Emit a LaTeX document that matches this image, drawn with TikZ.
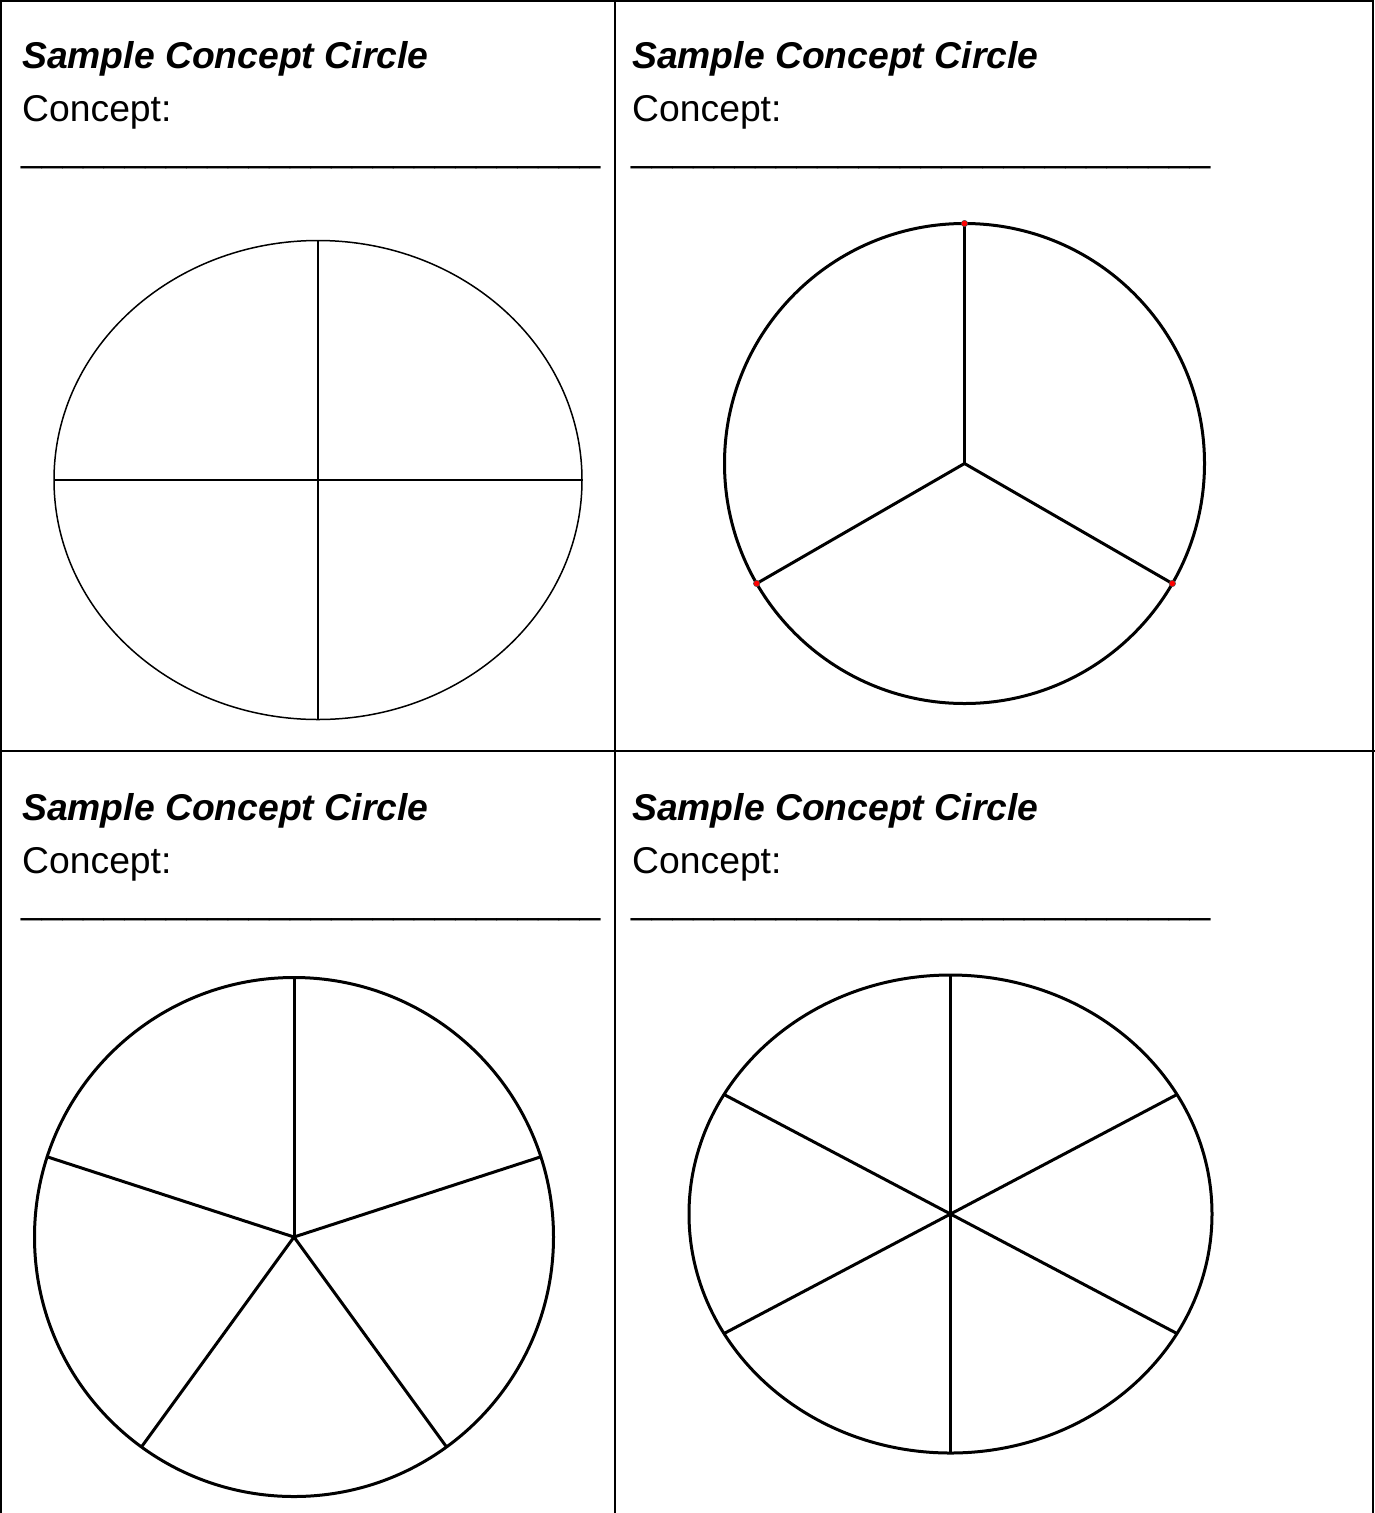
\documentclass[tikz,border=0pt]{standalone}
\usepackage{fontspec}
\setmainfont{Liberation Sans}
\usetikzlibrary{positioning}

\begin{document}
\begin{tikzpicture}[
    x=1pt, y=-1pt,
    cardtitle/.style={anchor=base west, inner sep=0pt,
      font=\fontsize{37.3}{44}\selectfont\bfseries\itshape},
    cardtext/.style={anchor=base west, inner sep=0pt,
      font=\fontsize{37.3}{44}\selectfont},
    tableline/.style={line width=2pt},
    thinrim/.style={line width=1.5pt},
    rim/.style={line width=3pt},
    dot/.style={fill=red, draw=black!70, line width=0.5pt}
]
  \useasboundingbox (0,0) rectangle (1375,1513);

  % table
  \draw[tableline] (1,1513) -- (1,1) -- (1373,1) -- (1373,1513);
  \draw[tableline] (615,0) -- (615,1513);
  \draw[tableline] (0,751) -- (1375,751);

  % headings of the four cards
  \foreach \x/\y/\n in {22/0/tl, 632/0/tr, 22/752/bl, 632/752/br} {
    \node[cardtitle] (title-\n) at (\x,68+\y) {Sample Concept Circle};
    \node[cardtext] (concept-\n) at (\x,121+\y) {Concept:};
    \node[cardtext, font=\fontsize{37.2}{44}\selectfont] (blank-\n) at (\x-1,161+\y)
      {\_\_\_\_\_\_\_\_\_\_\_\_\_\_\_\_\_\_\_\_\_\_\_\_\_\_\_\_};
  }

  % four parts
  \coordinate (c-tl) at (318,480);
  \draw[thinrim] (c-tl) ellipse [x radius=264, y radius=239.5];
  \draw[thinrim] (c-tl) ++(-264,0) -- ++(528,0);
  \draw[thinrim] (c-tl) ++(0,-239.5) -- ++(0,479);

  % three parts
  \coordinate (c-tr) at (964.5,463.5);
  \draw[rim] (c-tr) circle [radius=240];
  \foreach \a in {-90,30,150}
    \draw[rim] (c-tr) -- ++(\a:240) coordinate (end-\a);
  \foreach \a in {-90,30,150}
    \fill[dot] (end-\a) circle [radius=3.2];

  % five parts
  \coordinate (c-bl) at (294,1237);
  \draw[rim] (c-bl) circle [radius=259.5];
  \foreach \a in {-90,-18,54,126,198}
    \draw[rim] (c-bl) -- ++(\a:259.5);

  % six parts
  \coordinate (c-br) at (950.5,1214);
  \draw[rim] (c-br) ellipse [x radius=261.5, y radius=239];
  \foreach \a in {-90,-30,30}
    \draw[rim] (c-br) ++(\a:261.5 and 239) -- ++(\a+180:523 and 478);

\end{tikzpicture}
\end{document}
